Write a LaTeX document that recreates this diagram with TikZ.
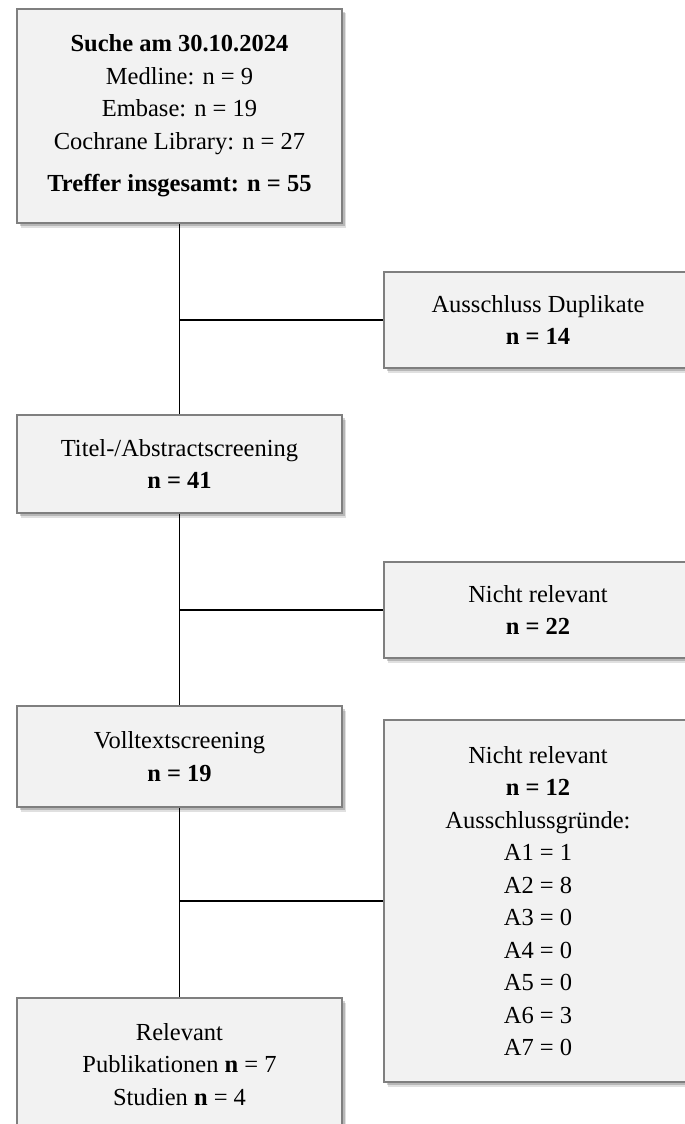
\documentclass[tikz,border=0pt]{standalone}
\usepackage{fontspec}
\setmainfont{Liberation Serif}
\usetikzlibrary{shadows}
\definecolor{boxfill}{HTML}{F2F2F2}
\definecolor{boxline}{HTML}{7F7F7F}
\tikzset{
  flowbox/.style={draw=boxline, line width=1.5pt, fill=boxfill, rectangle,
    align=center, inner sep=0pt, text=black,
    font=\fontsize{24.5}{32.5}\selectfont,
    drop shadow={shadow xshift=4pt, shadow yshift=-4.5pt, fill=black, opacity=0.12},
    drop shadow={shadow xshift=2.5pt, shadow yshift=-3pt, fill=black, opacity=0.18}},
  link/.style={draw=black, line width=1.3pt}
}
\begin{document}
\begin{tikzpicture}[x=1pt,y=-1pt]
\clip (0,0) rectangle (685,1124);
\fill[white] (0,0) rectangle (685,1124);
\node[flowbox, minimum width=325pt, minimum height=214pt] (b1) at (179.5,116)
  {\textbf{Suche am 30.10.2024}\\ Medline: n = 9\\ Embase: n = 19\\ Cochrane Library: n = 27\\[10pt] \textbf{Treffer insgesamt: n = 55}};
\node[flowbox, minimum width=308pt, minimum height=96pt] (b2) at (538,320)
  {Ausschluss Duplikate\\ \textbf{n = 14}};
\node[flowbox, minimum width=325pt, minimum height=98pt] (b3) at (179.5,464)
  {Titel-/Abstractscreening\\ \textbf{n = 41}};
\node[flowbox, minimum width=308pt, minimum height=96pt] (b4) at (538,610)
  {Nicht relevant\\ \textbf{n = 22}};
\node[flowbox, minimum width=325pt, minimum height=101pt] (b5) at (179.5,756.5)
  {Volltextscreening\\ \textbf{n = 19}};
\node[flowbox, minimum width=308pt, minimum height=362pt] (b6) at (538,901)
  {Nicht relevant\\ \textbf{n = 12}\\ Ausschlussgründe:\\ A1 = 1\\ A2 = 8\\ A3 = 0\\ A4 = 0\\ A5 = 0\\ A6 = 3\\ A7 = 0};
\node[flowbox, minimum width=325pt, minimum height=133pt] (b7) at (179.5,1064.5)
  {Relevant\\ Publikationen \textbf{n} = 7\\ Studien \textbf{n} = 4};
\draw[link] (b1.south) -- (b3.north);
\draw[link] (b1.south |- b2.west) -- (b2.west);
\draw[link] (b3.south) -- (b5.north);
\draw[link] (b3.south |- b4.west) -- (b4.west);
\draw[link] (b5.south) -- (b7.north);
\draw[link] (b5.south |- b6.west) -- (b6.west);
\end{tikzpicture}
\end{document}
